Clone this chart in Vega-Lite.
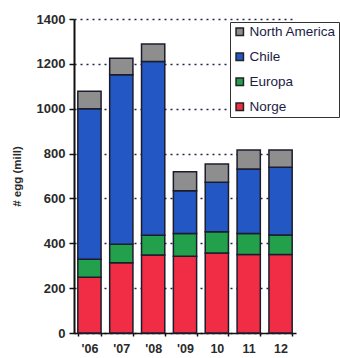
{
  "$schema": "https://vega.github.io/schema/vega-lite/v6.json",
  "autosize": {"type": "none"},
  "width": 222,
  "height": 314,
  "padding": {"left": 74, "top": 19, "right": 44, "bottom": 25},
  "background": "white",
  "data": {"values": [
    {"year": "'06", "region": "Norge", "eggs": 249},
    {"year": "'06", "region": "Europa", "eggs": 80},
    {"year": "'06", "region": "Chile", "eggs": 671},
    {"year": "'06", "region": "North America", "eggs": 78},
    {"year": "'07", "region": "Norge", "eggs": 313},
    {"year": "'07", "region": "Europa", "eggs": 83},
    {"year": "'07", "region": "Chile", "eggs": 755},
    {"year": "'07", "region": "North America", "eggs": 74},
    {"year": "'08", "region": "Norge", "eggs": 348},
    {"year": "'08", "region": "Europa", "eggs": 88},
    {"year": "'08", "region": "Chile", "eggs": 774},
    {"year": "'08", "region": "North America", "eggs": 78},
    {"year": "'09", "region": "Norge", "eggs": 342},
    {"year": "'09", "region": "Europa", "eggs": 102},
    {"year": "'09", "region": "Chile", "eggs": 190},
    {"year": "'09", "region": "North America", "eggs": 85},
    {"year": "10", "region": "Norge", "eggs": 357},
    {"year": "10", "region": "Europa", "eggs": 94},
    {"year": "10", "region": "Chile", "eggs": 221},
    {"year": "10", "region": "North America", "eggs": 81},
    {"year": "11", "region": "Norge", "eggs": 350},
    {"year": "11", "region": "Europa", "eggs": 94},
    {"year": "11", "region": "Chile", "eggs": 287},
    {"year": "11", "region": "North America", "eggs": 85},
    {"year": "12", "region": "Norge", "eggs": 350},
    {"year": "12", "region": "Europa", "eggs": 87},
    {"year": "12", "region": "Chile", "eggs": 302},
    {"year": "12", "region": "North America", "eggs": 77}
  ]},
  "transform": [
    {"calculate": "indexof(['Norge','Europa','Chile','North America'], datum.region)", "as": "stackOrder"}
  ],
  "mark": {"type": "bar", "stroke": "#1c1c2c", "strokeWidth": 1.5},
  "encoding": {
    "x": {
      "field": "year", "type": "nominal", "sort": null,
      "scale": {"paddingInner": 0.27, "paddingOuter": 0.12},
      "axis": {
        "title": null, "labelAngle": 0, "labelFont": "Liberation Sans", "labelFontWeight": "bold",
        "labelFontSize": 12.5, "labelColor": "#2a2a2a", "labelPadding": 6,
        "domainColor": "#111", "domainWidth": 1.5, "tickBand": "extent", "tickColor": "#111", "tickSize": 3,
        "tickWidth": 1.5, "grid": false
      }
    },
    "y": {
      "field": "eggs", "type": "quantitative", "stack": "zero",
      "scale": {"domain": [0, 1400], "nice": false},
      "axis": {
        "title": "# egg (mill)", "titleFont": "Liberation Sans", "titleFontWeight": "bold", "titleFontSize": 11.5,
        "titleColor": "#2a2a2a", "titlePadding": 14, "format": "d",
        "values": [0, 200, 400, 600, 800, 1000, 1200, 1400],
        "labelFont": "Liberation Sans", "labelFontWeight": "bold", "labelFontSize": 13, "labelColor": "#2a2a2a",
        "labelPadding": 4,
        "domainColor": "#111", "domainWidth": 2, "tickColor": "#111", "tickSize": 5, "tickWidth": 1.5,
        "grid": true, "gridColor": "#22264a", "gridDash": [2, 4], "gridWidth": 1.5
      }
    },
    "color": {
      "field": "region", "type": "nominal",
      "scale": {
        "domain": ["North America", "Chile", "Europa", "Norge"],
        "range": ["#8e8e8e", "#2357c4", "#22a04c", "#f02d45"]
      },
      "legend": {
        "title": null, "orient": "none", "legendX": 156, "legendY": 3,
        "fillColor": "white", "strokeColor": "#333", "padding": 3,
        "symbolType": "square", "symbolSize": 55, "symbolStrokeColor": "#222", "symbolStrokeWidth": 1.5,
        "symbolOpacity": 1,
        "labelFont": "Liberation Sans", "labelFontSize": 13.5, "labelColor": "#1c1c44", "labelFontWeight": "normal",
        "rowPadding": 10, "labelOffset": 3, "labelLimit": 200
      }
    },
    "order": {"field": "stackOrder", "type": "quantitative"}
  },
  "config": {"view": {"stroke": null}}
}
